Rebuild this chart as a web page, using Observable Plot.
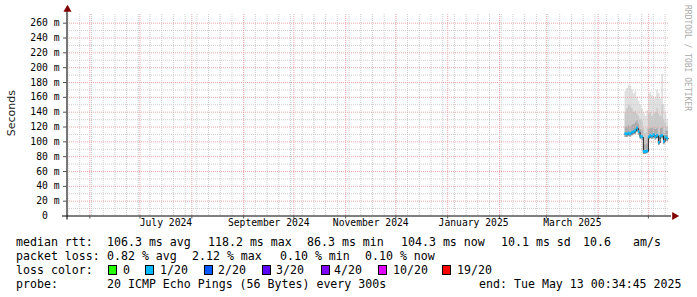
<!DOCTYPE html>
<html><head><meta charset="utf-8">
<script src="https://cdn.jsdelivr.net/npm/d3@7"></script>
<script src="https://cdn.jsdelivr.net/npm/@observablehq/plot@0.6"></script>
<style>
body{margin:0;background:#fff;}
#wrap{position:relative;width:697px;height:297px;overflow:hidden;background:#fff;}
#wrap svg{position:absolute;left:0;top:0;}
.lg{position:absolute;font-family:"DejaVu Sans Mono",monospace;font-size:11.6px;line-height:14px;white-space:pre;color:#000;}
.box{position:absolute;width:7px;height:8px;border:1px solid #000;}
.vt{position:absolute;white-space:pre;writing-mode:vertical-rl;}
</style></head><body><div id="wrap"></div>
<script>
// ---- data ----
const dates = ["2025-04-17","2025-04-18","2025-04-19","2025-04-20","2025-04-21","2025-04-22","2025-04-23","2025-04-24","2025-04-25","2025-04-26","2025-04-27","2025-04-28","2025-04-29","2025-04-30","2025-05-01","2025-05-02","2025-05-03","2025-05-04","2025-05-05","2025-05-06","2025-05-07","2025-05-08","2025-05-09","2025-05-10","2025-05-11","2025-05-12"];
const median   = [110.5,110,111,110.5,112,113,115,118.2,113,107,106,86.5,86.3,87,106,108,107,109,106,108,98.5,107,108,100,106,104.3];
const smokeMin = [106,106,107,106,108,109,110,113,109,103,102,83,83,84,102,104,103,105,102,104,95,103,104,96,102,100];
const smokeP75 = [121,120,122,121,123,124,126,129,124,117,116,97,96,98,117,119,118,120,117,119,110,118,120,111,116,114];
const smokeP90 = [140,145,150,148,145,140,142,138,135,130,128,118,112,118,138,140,135,138,140,145,138,135,150,130,125,120];
const smokeMax = [168,172,176,175,170,165,168,160,155,150,144,140,135,142,165,166,162,158,160,170,165,158,191,150,140,130];
const startTime = "2024-05-18T16:00:00Z";
const endTime = "2025-05-13T00:34:45Z";
const yTickValues = [0,20,40,60,80,100,120,140,160,180,200,220,240,260];
const yMinorValues = [10,30,50,70,90,110,130,150,170,190,210,230,250];
const monthLabels = ["July 2024","September 2024","November 2024","January 2025","March 2025"];
const monthLabelStarts = ["2024-07-01","2024-09-01","2024-11-01","2025-01-01","2025-03-01"];
const yTitle = "Seconds";
const watermark = "RRDTOOL / TOBI OETIKER";

const medianRow = ["median rtt:","106.3 ms avg","118.2 ms max","86.3 ms min","104.3 ms now","10.1 ms sd","10.6","am/s"];
const lossRow = ["packet loss:","0.82 % avg","2.12 % max","0.10 % min","0.10 % now"];
const lossLabels = ["0","1/20","2/20","3/20","4/20","10/20","19/20"];
const lossColors = ["#26ff00","#00b8ff","#0059ff","#5e00ff","#7e00ff","#dd00ff","#ff0000"];
const lossTitle = "loss color:";
const probeRow = ["probe:","20 ICMP Echo Pings (56 Bytes) every 300s"];
const endText = "end: Tue May 13 00:34:45 2025";

// ---- build ----
const x0 = new Date(startTime), x1 = new Date(endTime);
const rows = dates.map((d,i)=>({date:new Date(d+"T00:00:00Z"), med:median[i], mn:smokeMin[i], p75:smokeP75[i], p90:smokeP90[i], mx:smokeMax[i]}));
const stepRows = rows.concat([{...rows[rows.length-1], date:x1}]);
const weeks = d3.utcSunday.range(x0, x1);
const months = d3.utcMonth.range(d3.utcMonth.ceil(x0), x1);
const labelData = monthLabelStarts.map((m,i)=>{const a=new Date(m+"T00:00:00Z"); const b=d3.utcMonth.offset(a,1); return {x:new Date((+a + +b)/2), t:monthLabels[i]};});
const yMax = 271.7;
const plotW = 697-67-29, plotH = 233-14-17.5;
const mono = "DejaVu Sans Mono";
const minorC = "#cdcdcd", majorC = "#eaa8a8";

const chart = Plot.plot({
  width:697, height:233,
  marginLeft:67, marginRight:29, marginTop:14, marginBottom:17.5,
  style:{background:"transparent", fontFamily:mono, fontSize:"9.7px", color:"#000", overflow:"visible"},
  x:{type:"utc", domain:[x0,x1], axis:null},
  y:{domain:[0,yMax], axis:null},
  marks:[
    Plot.areaY(stepRows,{x:"date", y1:"p90", y2:"mx", curve:"step-after", fill:"#e0e0e0"}),
    Plot.areaY(stepRows,{x:"date", y1:"p75", y2:"p90", curve:"step-after", fill:"#c9c9c9"}),
    Plot.areaY(stepRows,{x:"date", y1:"med", y2:"p75", curve:"step-after", fill:"#acacac"}),
    Plot.areaY(stepRows,{x:"date", y1:"mn", y2:"med", curve:"step-after", fill:"#9c9c9c"}),
    Plot.ruleX(weeks,{stroke:minorC, strokeDasharray:"1,1"}),
    Plot.ruleY(yMinorValues,{stroke:minorC, strokeDasharray:"1,1"}),
    Plot.ruleX(months,{stroke:majorC, strokeDasharray:"1,1"}),
    Plot.ruleY(yTickValues.filter(v=>v>0),{stroke:majorC, strokeDasharray:"1,1"}),
    Plot.lineY(stepRows,{x:"date", y:"med", curve:"step-after", stroke:"#202020", strokeWidth:1}),
    Plot.areaY(stepRows,{x:"date", y1:d=>d.med-1.9, y2:d=>d.med+1.9, curve:"step-after", fill:"#00b8ff"}),
    // axes
    Plot.ruleX([x0],{stroke:"#777", strokeWidth:2, dx:-0.5, insetTop:-4, insetBottom:-4}),
    Plot.ruleY([0],{stroke:"#000", insetLeft:-5, insetRight:-3}),
    Plot.ruleY(yTickValues.filter(v=>v>0),{stroke:"#555", insetLeft:-4, insetRight:plotW}),
    Plot.ruleX(months,{stroke:"#555", insetTop:plotH, insetBottom:-3}),
    Plot.dot([x0],{x:d=>d, frameAnchor:"top", dy:-5, symbol:"triangle", r:3, fill:"#800000", stroke:null}),
    Plot.dot([0],{y:d=>d, frameAnchor:"right", dx:6, symbol:"triangle", rotate:90, r:3, fill:"#800000", stroke:null}),
    // tick labels
    Plot.text(yTickValues,{y:d=>d, frameAnchor:"left", textAnchor:"end", dx:-8, text:d=>d===0?"0\u00a0\u00a0":`${d} m`, fontFamily:mono, fontSize:9.7, fill:"#000"}),
    Plot.text(labelData,{x:"x", text:"t", frameAnchor:"bottom", dy:10, fontFamily:mono, fontSize:9.7, fill:"#000"})
  ]
});
const wrap = document.getElementById("wrap");
wrap.appendChild(chart);

function addText(t,left,top,cls){const s=document.createElement("div");s.className=cls||"lg";s.textContent=t;s.style.left=left+"px";s.style.top=top+"px";wrap.appendChild(s);return s;}
// rotated titles
const st = addText(yTitle,4.5,90,"vt"); st.style.transform="rotate(180deg)"; st.style.fontFamily="'DejaVu Sans',sans-serif"; st.style.fontSize="11px"; st.style.color="#222"; st.style.lineHeight="13px";
const wm = addText(watermark,682,5,"vt"); wm.style.fontFamily="'DejaVu Sans Mono',monospace"; wm.style.fontSize="8px"; wm.style.color="#aaa"; wm.style.lineHeight="10px";

const medX=[16,107,208,307,401,501,583,633];
medianRow.forEach((t,i)=>addText(t,medX[i],234.5));
const lossX=[16,107,192,280,365];
lossRow.forEach((t,i)=>addText(t,lossX[i],248.5));
addText(lossTitle,16,262.5);
const boxX=[108,145,204,262,321,378,442], labX=[123,160,218,276,334,393,457];
lossLabels.forEach((t,i)=>{const b=document.createElement("div");b.className="box";b.style.left=boxX[i]+"px";b.style.top="264.5px";b.style.background=lossColors[i];wrap.appendChild(b);addText(t,labX[i],262.5);});
addText(probeRow[0],16,276.5);
addText(probeRow[1],107,276.5);
const e=addText(endText,0,276.5); e.style.left="auto"; e.style.right="15.5px";
</script></body></html>
